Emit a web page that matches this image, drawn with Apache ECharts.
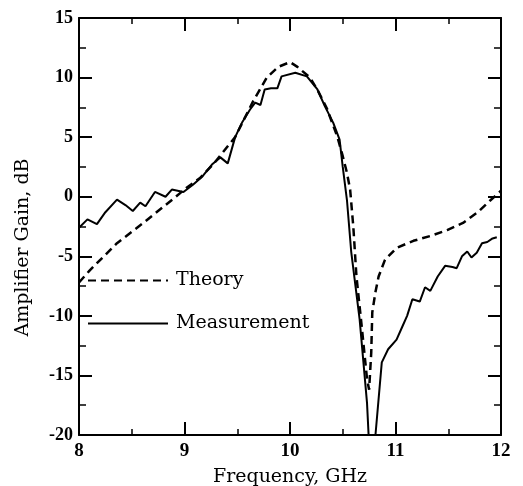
<!DOCTYPE html>
<html>
<head>
<meta charset="utf-8">
<script src="https://cdn.jsdelivr.net/npm/echarts@6/dist/echarts.min.js"></script>
<style>html,body{margin:0;padding:0;background:#fff;}#c{width:523px;height:486px;}</style>
</head>
<body>
<div id="c"></div>
<script>
var measFreq = [8.00, 8.08, 8.17, 8.25, 8.36, 8.44, 8.51, 8.58, 8.63, 8.72, 8.82, 8.88, 8.99, 9.08, 9.17, 9.26, 9.34, 9.41, 9.48, 9.55, 9.62, 9.67, 9.72, 9.76, 9.82, 9.88, 9.92, 10.05, 10.16, 10.26, 10.33, 10.41, 10.47, 10.50, 10.54, 10.58, 10.66, 10.73, 10.745, 10.81, 10.87, 10.93, 11.01, 11.06, 11.11, 11.16, 11.23, 11.28, 11.33, 11.40, 11.47, 11.54, 11.58, 11.63, 11.68, 11.72, 11.77, 11.82, 11.87, 11.92, 11.96];
var measGain = [-2.6, -1.9, -2.3, -1.3, -0.25, -0.7, -1.2, -0.5, -0.8, 0.4, 0.0, 0.6, 0.4, 1.0, 1.7, 2.7, 3.3, 2.8, 5.0, 6.3, 7.3, 7.9, 7.7, 9.0, 9.1, 9.1, 10.1, 10.4, 10.1, 9.0, 7.6, 6.2, 4.8, 2.5, -0.3, -4.6, -10.3, -17.3, -20, -20, -13.9, -12.8, -12.0, -11.0, -10.0, -8.6, -8.8, -7.6, -7.9, -6.7, -5.8, -5.9, -6.0, -5.0, -4.6, -5.1, -4.7, -3.9, -3.8, -3.5, -3.4];
var theoryFreq = [8.00, 8.10, 8.36, 8.61, 8.89, 9.02, 9.15, 9.27, 9.37, 9.48, 9.65, 9.78, 9.89, 10.00, 10.07, 10.19, 10.27, 10.35, 10.45, 10.50, 10.54, 10.57, 10.60, 10.63, 10.68, 10.73, 10.75, 10.77, 10.78, 10.81, 10.84, 10.90, 11.01, 11.17, 11.33, 11.49, 11.64, 11.78, 11.90, 12.00];
var theoryGain = [-7.2, -6.2, -3.9, -2.2, -0.2, 0.75, 1.6, 2.7, 3.8, 5.0, 8.0, 10.0, 10.9, 11.3, 10.9, 10.0, 8.8, 7.4, 5.0, 3.4, 2.0, 0.6, -2.5, -6.7, -10.9, -15.3, -16.2, -13.1, -9.7, -8.0, -6.7, -5.3, -4.3, -3.7, -3.3, -2.8, -2.2, -1.3, -0.3, 0.5];
var xTicks = [8, 9, 10, 11, 12];
var yTicks = [-20, -15, -10, -5, 0, 5, 10, 15];
var seriesNames = ['Theory', 'Measurement'];
var xTitle = 'Frequency, GHz';
var yTitle = 'Amplifier Gain, dB';

function zip(a, b) { return a.map(function (v, i) { return [v, b[i]]; }); }

var FONT = '"DejaVu Serif", "Liberation Serif", serif';
var TICKFONT = '"Liberation Serif", serif';
var axisLineStyle = { color: '#000', width: 2 };

function xAx(pos, showLabel) {
  return {
    type: 'value', position: pos, min: xTicks[0], max: xTicks[xTicks.length - 1], interval: 1,
    axisLine: { show: true, onZero: false, lineStyle: axisLineStyle },
    axisTick: { show: true, inside: true, length: 13, lineStyle: { color: '#000', width: 2 } },
    minorTick: { show: true, splitNumber: 2, length: 6, lineStyle: { color: '#000', width: 1.5 } },
    splitLine: { show: false }, minorSplitLine: { show: false },
    axisLabel: { show: showLabel, color: '#000', fontSize: 19, fontWeight: 'bold', fontFamily: TICKFONT, margin: 7 },
    name: showLabel ? xTitle : '', nameLocation: 'middle', nameGap: 33,
    nameTextStyle: { color: '#000', fontSize: 19, fontFamily: FONT }
  };
}
function yAx(pos, showLabel) {
  return {
    type: 'value', position: pos, min: yTicks[0], max: yTicks[yTicks.length - 1], interval: 5,
    axisLine: { show: true, onZero: false, lineStyle: axisLineStyle },
    axisTick: { show: true, inside: true, length: 13, lineStyle: { color: '#000', width: 2 } },
    minorTick: { show: true, splitNumber: 2, length: 7, lineStyle: { color: '#000', width: 1.5 } },
    splitLine: { show: false }, minorSplitLine: { show: false },
    axisLabel: { show: showLabel, color: '#000', fontSize: 18, fontWeight: 'bold', fontFamily: TICKFONT, margin: 6 },
    name: showLabel ? yTitle : '', nameLocation: 'middle', nameGap: 46, nameRotate: 90,
    nameTextStyle: { color: '#000', fontSize: 19, fontFamily: FONT, padding: [0, 42, 0, 0] }
  };
}

var chart = echarts.init(document.getElementById('c'), null, { renderer: 'canvas' });
chart.setOption({
  backgroundColor: '#fff',
  animation: false,
  grid: { left: 79, right: 22, top: 18, bottom: 51, containLabel: false, outerBoundsMode: 'none' },
  xAxis: [xAx('bottom', true), xAx('top', false)],
  yAxis: [yAx('left', true), yAx('right', false)],
  legend: {
    orient: 'vertical', left: 82, top: 266,
    itemWidth: 80, itemHeight: 14, itemGap: 24,
    itemStyle: { opacity: 0 },
    textStyle: { color: '#000', fontSize: 19, fontFamily: FONT, padding: [0, 0, 0, 3] },
    data: seriesNames
  },
  series: [
    {
      name: seriesNames[0], type: 'line', xAxisIndex: 0, yAxisIndex: 0,
      data: zip(theoryFreq, theoryGain), showSymbol: false, symbol: 'none', smooth: false,
      lineStyle: { color: '#000', width: 2.5, type: [8, 5] }, itemStyle: { color: '#000' }
    },
    {
      name: seriesNames[1], type: 'line', xAxisIndex: 0, yAxisIndex: 0,
      data: zip(measFreq, measGain), showSymbol: false, symbol: 'none', smooth: false,
      lineStyle: { color: '#000', width: 2 }, itemStyle: { color: '#000' }
    }
  ]
});
</script>
</body>
</html>
